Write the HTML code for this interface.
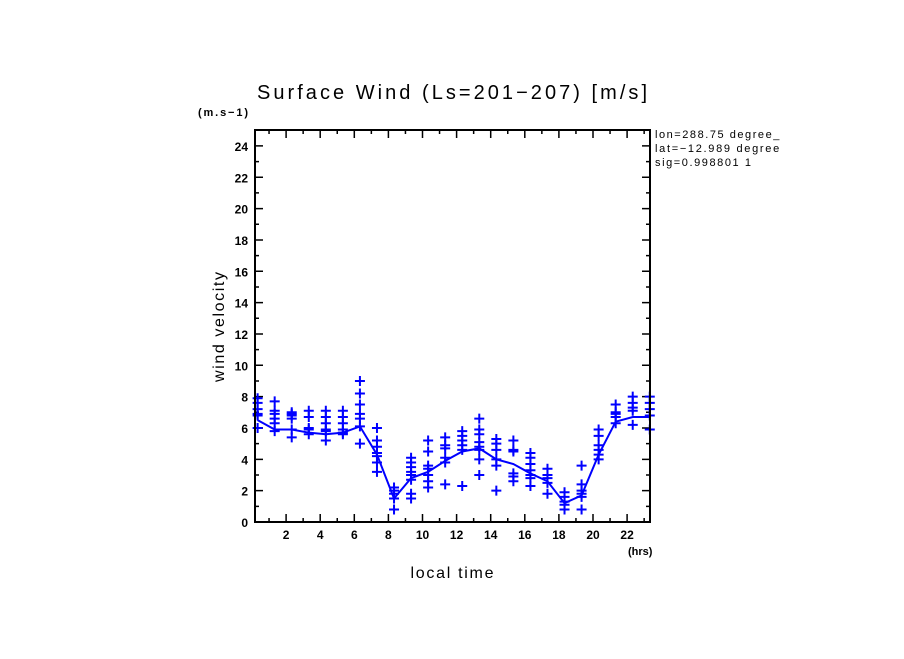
<!DOCTYPE html>
<html><head><meta charset="utf-8"><style>
body{margin:0;background:#fff;}
svg text{font-family:"Liberation Sans",sans-serif;fill:#000;}
</style></head><body>
<svg id="c" width="904" height="654" xmlns="http://www.w3.org/2000/svg">
<rect width="904" height="654" fill="#fff"/>
<text x="257" y="99" font-size="20" textLength="390" lengthAdjust="spacing">Surface Wind  (Ls=201−207) [m/s]</text>
<text x="198" y="116" font-size="11" font-weight="bold" textLength="50">(m.s−1)</text>
<text x="655" y="138" font-size="11" textLength="132">lon=288.75 degree_e</text>
<text x="655" y="152" font-size="11" textLength="132">lat=−12.989 degree_</text>
<text x="655" y="166" font-size="11" textLength="96">sig=0.998801 1</text>
<text x="628" y="555" font-size="11" font-weight="bold">(hrs)</text>
<text x="452" y="578" font-size="16" text-anchor="middle" textLength="83">local time</text>
<text transform="translate(224,327) rotate(-90)" font-size="16" text-anchor="middle" textLength="110">wind velocity</text>
<rect x="780" y="128" width="124" height="44" fill="#fff"/>
<g id="axes"></g>
<g id="marks"></g>
<rect x="255" y="130" width="395" height="392" fill="none" stroke="#000" stroke-width="2"/>
</svg>
<script>
const hours=[0,1,2,3,4,5,6,7,8,9,10,11,12,13,14,15,16,17,18,19,20,21,22,23];
const meanWind=[6.5,5.9,5.9,5.7,5.6,5.7,6.1,4.3,1.5,2.8,3.2,3.9,4.5,4.7,4.0,3.7,3.1,2.6,1.2,1.7,4.3,6.4,6.7,6.7];
const samples=[
[7.9,7.6,7.2,6.9,6.8,6.0],[7.7,7.1,6.9,6.6,6.3,5.8],[7.0,6.9,6.8,6.6,5.9,5.4],[7.1,6.7,6.0,5.9,5.6],
[7.1,6.7,6.3,5.9,5.8,5.2],[7.1,6.7,6.3,5.9,5.7,5.6],[9.0,8.2,7.5,6.9,6.6,6.1,5.0],[6.0,5.2,4.8,4.4,4.2,3.8,3.2],
[2.2,2.0,1.8,1.5,0.8],[4.1,3.8,3.5,3.2,3.0,2.7,1.8,1.5],[5.2,4.5,3.6,3.4,3.0,2.6,2.2],[5.4,4.9,4.7,4.1,3.8,2.4],
[5.8,5.5,5.2,4.9,4.6,2.3],[6.6,5.9,5.6,5.1,4.8,4.6,4.0,3.0],[5.3,5.0,4.6,4.0,3.6,2.0],[5.2,4.6,4.5,3.1,2.9,2.6],
[4.4,4.1,3.7,3.3,3.0,2.8,2.3],[3.4,3.0,2.8,2.5,1.8],[1.9,1.6,1.3,1.1,0.8],[3.6,2.4,2.0,1.8,1.6,0.8],
[5.9,5.5,4.9,4.6,4.3,4.0],[7.5,7.0,6.9,6.7,6.3],[8.0,7.6,7.3,7.1,6.2],[8.0,7.6,7.2,6.8,5.9]];
const xTickLabels=[2,4,6,8,10,12,14,16,18,20,22];
const yTickLabels=[0,2,4,6,8,10,12,14,16,18,20,22,24];
const hourOffset=0.33;
const X=t=>252+17.05*t;
const Y=v=>522-15.67*v;
const NS='http://www.w3.org/2000/svg';
const axes=document.getElementById('axes'),marks=document.getElementById('marks');
function mk(tag,attrs,parent){const e=document.createElementNS(NS,tag);for(const k in attrs)e.setAttribute(k,attrs[k]);parent.appendChild(e);return e;}
for(let t=1;t<=23;t++){const x=X(t);const maj=t%2===0;const l=maj?8:4;
 const tk=mk('path',{d:`M${x},522v${-l}M${x},130v${l}`,stroke:'#000','stroke-width':1.5},axes);
 
 }
xTickLabels.forEach(v=>{const t=mk('text',{x:X(v),y:539,'font-size':12,'font-weight':'bold','text-anchor':'middle'},axes);t.textContent=v;
 
 });
for(let v=1;v<25;v++){const y=Y(v);const l=v%2===0?8:4;
 const tk=mk('path',{d:`M255,${y}h${l}M650,${y}h${-l}`,stroke:'#000','stroke-width':1.5},axes);
 
 }
yTickLabels.forEach(v=>{const t=mk('text',{x:248,y:Y(v)+5,'font-size':12,'font-weight':'bold','text-anchor':'end'},axes);t.textContent=v;
 
 });
const line=mk('polyline',{points:hours.map((h,i)=>X(h+hourOffset)+','+Y(meanWind[i])).join(' '),fill:'none',stroke:'#0000ff','stroke-width':2},marks);


samples.forEach((col,i)=>col.forEach(v=>{const x=X(hours[i]+hourOffset),y=Y(v);
 const p=mk('path',{d:`M${x-5},${y}h10M${x},${y-5}v10`,stroke:'#0000ff','stroke-width':2},marks);
 
 }));
</script>
</body></html>
